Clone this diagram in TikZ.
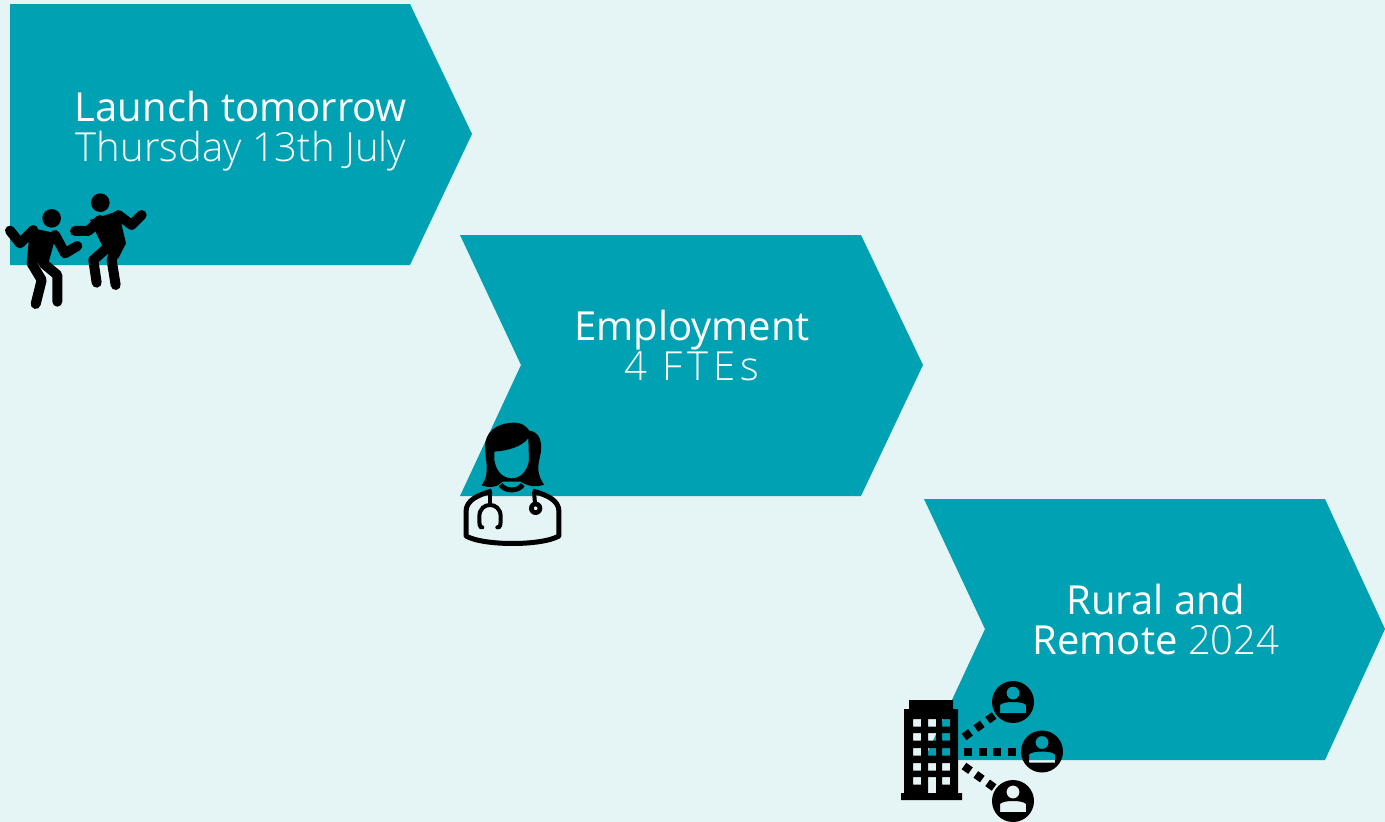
\documentclass[tikz,border=0pt]{standalone}
\usepackage{fontspec}
\setmainfont{Open Sans}
\newfontfamily\lightfont{Open Sans Light}
\usetikzlibrary{positioning}
\definecolor{bgcol}{HTML}{E5F5F5}
\definecolor{tealcol}{HTML}{00A1B2}
\tikzset{
  chevron/.style={fill=tealcol},
  headline/.style={text=white,align=center,font=\fontsize{40}{40}\selectfont,inner sep=0pt},
  limb/.style={line width=10pt,line cap=round,line join=round},
  dotline/.style={line width=8pt,dash pattern=on 8pt off 6.5pt,shorten >=21pt},
  icon/.style={x=.3333pt,y=-.3333pt}
}
\begin{document}
\begin{tikzpicture}[x=1pt,y=-1pt]
  \fill[bgcol] (0,0) rectangle (1385,822);
  \useasboundingbox (0,0) rectangle (1385,822);

  % the three arrows
  \fill[chevron] (10,4) -- (410,4) -- (472,134) -- (410,265) -- (10,265) -- cycle;
  \fill[chevron] (460,235) -- (861,235) -- (923,365) -- (861,496) -- (460,496) -- (521,365) -- cycle;
  \fill[chevron] (924,499) -- (1325,499) -- (1385,629) -- (1325,760) -- (924,760) -- (985,629) -- cycle;

  \node[headline] (launch) at (241,131) {Launch tomorrow\\{\lightfont Thursday 13th July}};
  \node[headline] (employ) at (692,345) {Employment\\{\lightfont\addfontfeature{LetterSpace=12}4 FTEs}};
  \node[headline] (rural) at (1156,619) {Rural and\\Remote {\lightfont 2024}};

  % dancers
  \begin{scope}[icon,shift={(0pt,-180pt)}]
    \fill (301,68) circle (28);
    \fill (155,115) circle (28);
    \fill (270,120) -- (355,93) -- (378,190) -- (355,235) -- (315,215) -- cycle;
    \draw[limb] (225,153) -- (265,153) -- (300,120);
    \draw[limb] (355,105) -- (395,135) -- (425,105);
    \draw[limb] (350,195) -- (335,240) -- (347,315);
    \draw[limb] (320,205) -- (280,240) -- (290,308);
    \fill (90,143) -- (170,160) -- (145,250) -- (80,250) -- cycle;
    \draw[limb] (30,152) -- (60,190) -- (100,150);
    \draw[limb] (165,165) -- (195,220) -- (232,198);
    \draw[limb] (95,250) -- (125,300) -- (107,372);
    \draw[limb] (130,250) -- (172,285) -- (172,365);
  \end{scope}

  % doctor
  \begin{scope}[icon,shift={(450pt,-410pt)}]
    \fill[even odd rule] (195,38) .. controls (135,38) and (105,70) .. (105,110)
      .. controls (105,150) and (122,190) .. (95,226) .. controls (120,236) and (145,230) .. (158,215)
      -- (212,215) .. controls (235,230) and (260,232) .. (282,224)
      .. controls (262,195) and (262,170) .. (270,140) .. controls (280,100) and (270,65) .. (238,62)
      .. controls (228,48) and (215,38) .. (195,38) -- cycle
      (133,125) .. controls (175,122) and (215,110) .. (235,85) -- (237,150)
      .. controls (232,185) and (210,205) .. (185,205) .. controls (160,205) and (138,185) .. (133,150) -- cycle;
    \draw[line width=5pt,line join=round] (125,243) .. controls (85,255) and (48,270) .. (48,305) -- (48,378)
      .. controls (100,408) and (275,408) .. (327,378) -- (327,305)
      .. controls (327,270) and (290,255) .. (248,243);
    \draw[line width=5pt] (152,224) .. controls (165,245) and (205,245) .. (218,224);
    \draw[line width=4pt,line cap=round] (120,245) -- (120,285);
    \draw[line width=4pt,line cap=round] (97,352) .. controls (88,352) and (88,345) .. (88,320)
      .. controls (88,295) and (105,285) .. (120,285) .. controls (135,285) and (152,295) .. (152,320)
      .. controls (152,345) and (152,352) .. (142,352);
    \draw[line width=4pt] (252,245) -- (255,280);
    \fill[even odd rule] (257,295) circle (20) (257,295) circle (6);
  \end{scope}

  % building with its people
  \fill[even odd rule] (909,700) -- (953,700) -- (953,709) -- (958,709) -- (958,793) -- (962,793) -- (962,800)
    -- (901,800) -- (901,793) -- (904,793) -- (904,709) -- (909,709) -- cycle
    foreach \wx in {913,928,942} {foreach \wy in {719,733,748,763} {
      (\wx,\wy) rectangle ++(8,7.5)}}
    (913,777) rectangle ++(8,7.5) (942,777) rectangle ++(8,7.5) (928,777) rectangle (936,793);

  \coordinate (bldgtop) at (964,737);
  \coordinate (bldgmid) at (964,751.5);
  \coordinate (bldglow) at (964,766);
  \coordinate (persontop) at (1013,702);
  \coordinate (personmid) at (1042,751.5);
  \coordinate (personlow) at (1013,801);
  \draw[dotline] (bldgtop) -- (persontop);
  \draw[dotline] (bldgmid) -- (personmid);
  \draw[dotline] (bldglow) -- (personlow);
  \foreach \pc in {persontop,personmid,personlow} {
    \fill[even odd rule] (\pc) circle (21)
      ([shift={(0,-9)}]\pc) circle (6.5)
      ([shift={(-13,11)}]\pc) -- ([shift={(13,11)}]\pc) -- ([shift={(13,3)}]\pc)
      .. controls ([shift={(10,-1)}]\pc) and ([shift={(-10,-1)}]\pc) .. ([shift={(-13,3)}]\pc) -- cycle;
  }
\end{tikzpicture}
\end{document}
